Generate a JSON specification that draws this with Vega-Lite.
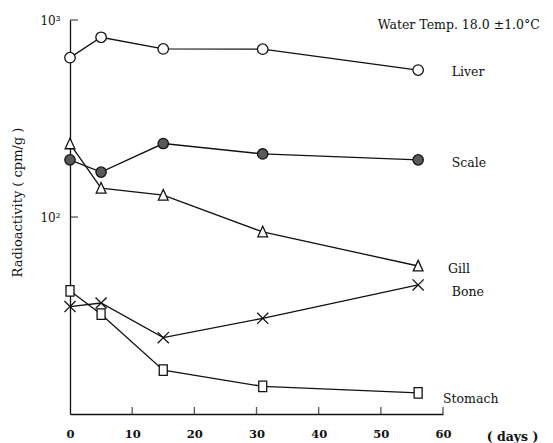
{
  "$schema": "https://vega.github.io/schema/vega-lite/v6.json",
  "autosize": "none",
  "padding": {"left": 70, "top": 20, "right": 110, "bottom": 29},
  "width": 373,
  "height": 394,
  "background": "white",
  "config": {
    "view": {"stroke": null},
    "font": "DejaVu Serif",
    "axis": {"grid": false, "domainColor": "#111", "tickColor": "#111", "domainWidth": 1.3, "tickWidth": 1.3, "labelColor": "#111", "titleColor": "#111", "labelFont": "DejaVu Serif", "titleFont": "DejaVu Serif", "titleFontWeight": "normal"}
  },
  "datasets": {
    "pts": [
      {"tissue": "Liver", "day": 0, "value": 644},
      {"tissue": "Liver", "day": 5, "value": 817},
      {"tissue": "Liver", "day": 15, "value": 713},
      {"tissue": "Liver", "day": 31, "value": 711},
      {"tissue": "Liver", "day": 56, "value": 557},
      {"tissue": "Scale", "day": 0, "value": 195},
      {"tissue": "Scale", "day": 5, "value": 169},
      {"tissue": "Scale", "day": 15, "value": 236},
      {"tissue": "Scale", "day": 31, "value": 209},
      {"tissue": "Scale", "day": 56, "value": 195},
      {"tissue": "Gill", "day": 0, "value": 235},
      {"tissue": "Gill", "day": 5, "value": 140},
      {"tissue": "Gill", "day": 15, "value": 129},
      {"tissue": "Gill", "day": 31, "value": 84},
      {"tissue": "Gill", "day": 56, "value": 56.4},
      {"tissue": "Bone", "day": 0, "value": 35.1},
      {"tissue": "Bone", "day": 5, "value": 36.6},
      {"tissue": "Bone", "day": 15, "value": 24.4},
      {"tissue": "Bone", "day": 31, "value": 30.6},
      {"tissue": "Bone", "day": 56, "value": 45.2},
      {"tissue": "Stomach", "day": 0, "value": 42.2},
      {"tissue": "Stomach", "day": 5, "value": 32.1},
      {"tissue": "Stomach", "day": 15, "value": 16.7},
      {"tissue": "Stomach", "day": 31, "value": 13.8},
      {"tissue": "Stomach", "day": 56, "value": 12.8}
    ],
    "labels": [
      {"text": "Liver", "day": 61.4, "value": 545},
      {"text": "Scale", "day": 61.4, "value": 188},
      {"text": "Gill", "day": 60.8, "value": 54.5},
      {"text": "Bone", "day": 61.4, "value": 41.6},
      {"text": "Stomach", "day": 60.0, "value": 11.9},
      {"text": "Water Temp. 18.0 ±1.0°C", "day": 49.5, "value": 943}
    ],
    "xticks": [{"day": 10}, {"day": 20}, {"day": 30}, {"day": 40}, {"day": 50}, {"day": 60}],
    "yticks": [{"value": 100}, {"value": 1000}]
  },
  "layer": [
    {
      "data": {"name": "pts"},
      "mark": {"type": "line", "color": "#111", "strokeWidth": 1.3},
      "encoding": {
        "x": {"field": "day", "type": "quantitative", "scale": {"domain": [0, 60], "nice": false, "zero": false},
          "axis": {"values": [0, 10, 20, 30, 40, 50, 60], "ticks": false, "labelPadding": 20, "labelFontSize": 11.5, "labelFontWeight": "bold", "labelBaseline": "middle", "labelFlush": false,
            "title": "(  days  )", "titleX": 442, "titleY": 22, "titleAlign": "center", "titleBaseline": "middle", "titleFontSize": 12.5, "titleFontWeight": "bold"}},
        "y": {"field": "value", "type": "quantitative", "scale": {"type": "log", "domain": [10, 1000], "nice": false},
          "axis": {"values": [100, 1000], "ticks": false, "labelPadding": 10, "labelFontSize": 12, "labelExpr": "datum.value == 100 ? '10²' : '10³'",
            "title": "Radioactivity  ( cpm/g )", "titleX": -53, "titleY": 182, "titleAngle": -90, "titleAlign": "center", "titleBaseline": "middle", "titleFontSize": 13}},
        "detail": {"field": "tissue"}
      }
    },
    {
      "data": {"name": "xticks"},
      "mark": {"type": "tick", "orient": "vertical", "color": "#111", "size": 7, "thickness": 1.3, "yOffset": -3.5},
      "encoding": {
        "x": {"field": "day", "type": "quantitative"},
        "y": {"datum": 10, "type": "quantitative"}
      }
    },
    {
      "data": {"name": "yticks"},
      "mark": {"type": "tick", "orient": "horizontal", "color": "#111", "size": 8, "thickness": 1.3, "xOffset": 4},
      "encoding": {
        "x": {"datum": 0, "type": "quantitative"},
        "y": {"field": "value", "type": "quantitative"}
      }
    },
    {
      "data": {"name": "pts"},
      "mark": {"type": "point", "filled": false, "stroke": "#111", "strokeWidth": 1.3, "opacity": 1},
      "encoding": {
        "x": {"field": "day", "type": "quantitative"},
        "y": {"field": "value", "type": "quantitative"},
        "shape": {"field": "tissue", "type": "nominal", "legend": null,
          "scale": {"domain": ["Liver", "Scale", "Gill", "Bone", "Stomach"],
            "range": ["circle", "circle", "M0,-1.1L0.95,0.95L-0.95,0.95Z", "M-1.1,-1.1L1.1,1.1M-1.1,1.1L1.1,-1.1", "M-0.8,-1.05L0.8,-1.05L0.8,1.05L-0.8,1.05Z"]}},
        "size": {"field": "tissue", "type": "nominal", "legend": null,
          "scale": {"domain": ["Liver", "Scale", "Gill", "Bone", "Stomach"], "range": [110, 100, 144, 144, 144]}},
        "fill": {"field": "tissue", "type": "nominal", "legend": null,
          "scale": {"domain": ["Liver", "Scale", "Gill", "Bone", "Stomach"], "range": ["white", "#5a5a5a", "white", "white", "white"]}}
      }
    },
    {
      "data": {"name": "labels"},
      "mark": {"type": "text", "align": "left", "baseline": "middle", "fontSize": 12.5, "color": "#111", "font": "DejaVu Serif"},
      "encoding": {
        "x": {"field": "day", "type": "quantitative"},
        "y": {"field": "value", "type": "quantitative"},
        "text": {"field": "text"}
      }
    }
  ]
}
